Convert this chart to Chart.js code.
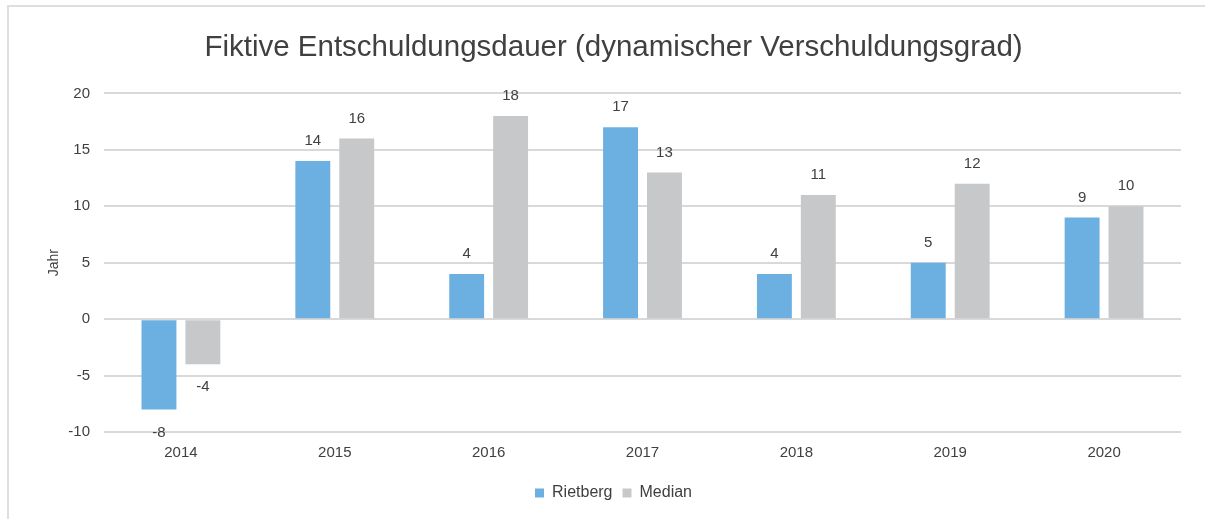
<!DOCTYPE html>
<html lang="de">
<head>
<meta charset="utf-8">
<title>Fiktive Entschuldungsdauer</title>
<script src="https://cdn.jsdelivr.net/npm/chart.js@4/dist/chart.umd.min.js"></script>
<style>
  html, body { margin: 0; padding: 0; background: #fff; }
  #wrap { position: relative; width: 1205px; height: 519px; overflow: hidden; }
  #frame { position: absolute; left: 7px; top: 5px; width: 1300px; height: 600px;
           border-left: 2px solid #dedede; border-top: 2px solid #dedede; pointer-events: none; }
  canvas { position: absolute; left: 0; top: 0; }
</style>
</head>
<body>
<div id="wrap">
  <canvas id="chart" width="1205" height="519"></canvas>
  <div id="frame"></div>
</div>
<script>
// Jahre und Werte
var years = ['2014', '2015', '2016', '2017', '2018', '2019', '2020'];
var rietberg = [-8, 14, 4, 17, 4, 5, 9];
var median = [-4, 16, 18, 13, 11, 12, 10];
var yTicks = [-10, -5, 0, 5, 10, 15, 20];

var textColor = '#404040';
var fontFamily = '"Liberation Sans", Arial, sans-serif';

// Zahlen über bzw. unter den Balken
var valueLabels = {
  id: 'valueLabels',
  afterDatasetsDraw: function (chart) {
    var ctx = chart.ctx;
    ctx.save();
    ctx.font = '15px ' + fontFamily;
    ctx.fillStyle = textColor;
    ctx.textAlign = 'center';
    ctx.textBaseline = 'middle';
    chart.data.datasets.forEach(function (ds, i) {
      chart.getDatasetMeta(i).data.forEach(function (bar, j) {
        var v = ds.data[j];
        var y = v >= 0 ? bar.y - 20 : bar.y + 23;
        ctx.fillText(String(v), bar.x, y);
      });
    });
    ctx.restore();
  }
};

var ctx = document.getElementById('chart').getContext('2d');
new Chart(ctx, {
  type: 'bar',
  data: {
    labels: years,
    datasets: [
      { label: 'Rietberg', data: rietberg, backgroundColor: '#6cb0e2' },
      { label: 'Median', data: median, backgroundColor: '#c7c8ca' }
    ]
  },
  plugins: [valueLabels],
  options: {
    responsive: false,
    animation: false,
    layout: { padding: { left: 46, right: 24, top: 0, bottom: 8 } },
    categoryPercentage: 0.571,
    barPercentage: 0.795,
    plugins: {
      title: {
        display: true,
        text: 'Fiktive Entschuldungsdauer (dynamischer Verschuldungsgrad)',
        color: textColor,
        font: { family: fontFamily, size: 29.5, weight: 'normal' },
        padding: { top: 30, bottom: 28 }
      },
      legend: {
        position: 'bottom',
        labels: {
          color: textColor,
          font: { family: fontFamily, size: 16 },
          boxWidth: 9,
          boxHeight: 9,
          padding: 10
        }
      },
      tooltip: { enabled: false }
    },
    scales: {
      x: {
        grid: { display: false, drawTicks: false },
        border: { display: false },
        ticks: { color: textColor, font: { family: fontFamily, size: 15 }, padding: 12 },
        afterFit: function (s) { s.height = 43; }
      },
      y: {
        min: -10,
        max: 20,
        afterBuildTicks: function (s) { s.ticks = yTicks.map(function (v) { return { value: v }; }); },
        grid: { color: '#d9d9d9', lineWidth: 2, drawTicks: false },
        border: { display: false },
        ticks: { color: textColor, font: { family: fontFamily, size: 15 }, padding: 14 },
        title: {
          display: true,
          text: 'Jahr',
          color: textColor,
          font: { family: fontFamily, size: 14 },
          padding: 0
        },
        afterFit: function (s) { s.width = 58; }
      }
    }
  }
});
</script>
</body>
</html>
